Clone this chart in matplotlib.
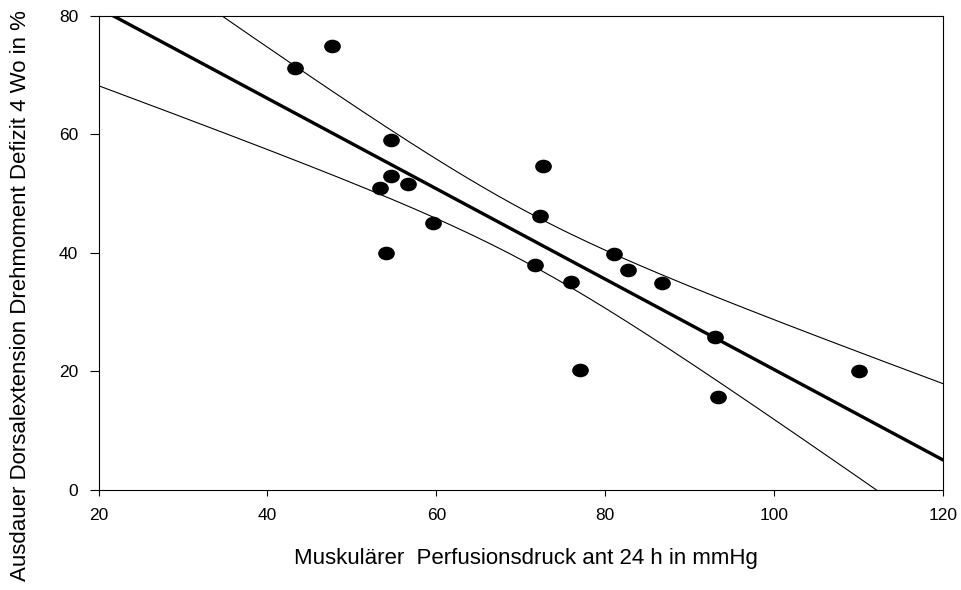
import numpy as np
import matplotlib
matplotlib.use("Agg")
import matplotlib.pyplot as plt
from matplotlib.path import Path
from matplotlib.transforms import Affine2D

plt.rcParams['font.family'] = ['Liberation Sans', 'DejaVu Sans']

perfusion = [47.6, 43.3, 54.6, 72.6, 54.6, 56.6, 53.3, 72.3, 59.6, 54.0,
             71.7, 81.0, 82.7, 86.7, 76.0, 93.0, 77.0, 93.3, 110.1]
endurance = [75.0, 71.2, 59.0, 54.6, 53.0, 51.6, 50.9, 46.2, 45.0, 40.0,
             38.0, 39.8, 37.1, 35.0, 35.1, 25.9, 20.3, 15.7, 20.0]

xticks = [20, 40, 60, 80, 100, 120]
yticks = [0, 20, 40, 60, 80]

x = np.array(perfusion)
y = np.array(endurance)
n = len(x)

# linear regression + 95% confidence band
slope, icpt = np.polyfit(x, y, 1)
resid = y - (slope * x + icpt)
s = np.sqrt(np.sum(resid ** 2) / (n - 2))
t_val = 2.110  # t(0.975, df=17)
xx = np.linspace(20, 120, 300)
yy = slope * xx + icpt
se = s * np.sqrt(1.0 / n + (xx - x.mean()) ** 2 / np.sum((x - x.mean()) ** 2))

fig = plt.figure(figsize=(9.61, 5.90), dpi=100)
ax = fig.add_axes([0.1025, 0.1695, 0.8788, 0.8034])

ax.plot(xx, yy, color='black', lw=2.4, zorder=2)
ax.plot(xx, yy + t_val * se, color='black', lw=0.8, zorder=2)
ax.plot(xx, yy - t_val * se, color='black', lw=0.8, zorder=2)

ellipse = Path.unit_circle().transformed(Affine2D().scale(1.0, 0.8))
ax.scatter(x, y, marker=ellipse, s=11 ** 2, color='black', zorder=3)

ax.set_xlim(20, 120)
ax.set_ylim(0, 80)
ax.set_xticks(xticks)
ax.set_yticks(yticks)
ax.tick_params(axis='x', direction='out', length=4, width=0.8, labelsize=12.5, pad=9)
ax.tick_params(axis='y', direction='out', length=6.5, width=0.8, labelsize=12.5, pad=8)
for sp in ax.spines.values():
    sp.set_linewidth(0.8)

ax.set_xlabel("Muskulärer  Perfusionsdruck ant 24 h in mmHg", fontsize=16)
ax.set_ylabel("Ausdauer Dorsalextension Drehmoment Defizit 4 Wo in %", fontsize=16)
ax.xaxis.set_label_coords(0.506, -0.122)
ax.yaxis.set_label_coords(-0.080, 0.411)

fig.savefig("out.png", dpi=100)
